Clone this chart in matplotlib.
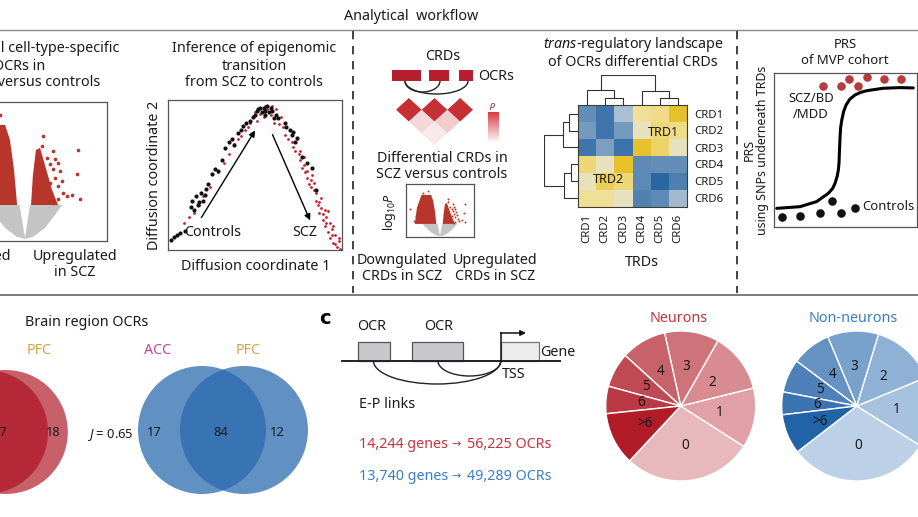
import numpy as np
import matplotlib
matplotlib.use('Agg')
import matplotlib.pyplot as plt
from matplotlib.patches import Arc, Rectangle, Circle, Polygon
from matplotlib.colors import LinearSegmentedColormap
from matplotlib.cm import ScalarMappable

plt.rcParams['font.family'] = ['Noto Sans', 'DejaVu Sans']
plt.rcParams['mathtext.fontset'] = 'custom'
plt.rcParams['mathtext.rm'] = 'Noto Sans'
plt.rcParams['mathtext.it'] = 'Noto Sans:italic'

# ---------------- data ----------------
# volcano (logFC, -log10 P)
up_x = [0.67, 0.61, 1.04, 1.95, 0.82, 1.10, 1.22, 0.92, 1.04, 1.28, 1.89, 1.10,
        1.34, 0.92, 1.22, 1.53, 1.71, 2.01, 1.40, 1.22, 1.04, 0.85]
up_y = [7.58, 6.85, 6.49, 6.55, 6.00, 5.92, 5.63, 5.52, 5.16, 5.04, 4.79, 4.55,
        4.32, 4.15, 3.96, 3.24, 3.29, 3.00, 3.47, 3.00, 2.76, 3.24]
dn_x = [-0.92, -0.79, -0.85, -0.77, -0.85, -0.70, -0.82, -0.92, -0.77, -1.10,
        -1.30, -1.60, -1.20, -1.90, -1.45, -2.10, -1.70, -1.05, -2.40, -1.35]
dn_y = [9.06, 8.10, 7.63, 7.14, 6.67, 6.31, 5.70, 4.99, 4.51, 7.90,
        6.20, 5.40, 4.80, 4.20, 3.60, 3.10, 2.90, 3.30, 5.60, 8.70]
up_dense_x = [0.22, 0.29, 0.40, 0.55, 0.73, 0.99, 1.21]
up_dense_y = [2.59, 4.75, 6.55, 6.70, 5.47, 3.67, 2.59]
dn_dense_x = [-0.29, -0.40, -0.55, -0.73, -1.47, -1.83, -2.00]
dn_dense_y = [2.59, 5.10, 7.27, 8.35, 8.35, 5.80, 2.59]
ns_x = [0, 0.18, 1.36, 1.10, 0.73, 0.29, 0, -0.29, -0.73, -1.10, -1.40, -0.20]
ns_y = [0.22, 2.59, 2.59, 1.87, 0.94, 0.29, 0.15, 0.29, 0.94, 1.87, 2.59, 2.59]

# diffusion map
dc1_ctrl = [0.02, 0.035, 0.05, 0.07, 0.13, 0.14, 0.16, 0.17, 0.19, 0.20, 0.22, 0.25, 0.27,
            0.29, 0.33, 0.35, 0.37, 0.38, 0.43, 0.45, 0.47, 0.50, 0.51, 0.53, 0.54, 0.56,
            0.57, 0.58, 0.61, 0.62, 0.67, 0.68, 0.70, 0.72, 0.74, 0.77, 0.83, 0.85,
            0.49, 0.52, 0.55, 0.555, 0.59, 0.60, 0.63, 0.10, 0.15, 0.18, 0.21, 0.23,
            0.31, 0.40, 0.42, 0.71, 0.73, 0.80]
dc2_ctrl = [0.07, 0.085, 0.10, 0.115, 0.29, 0.33, 0.36, 0.30, 0.38, 0.33, 0.41, 0.51, 0.54,
            0.53, 0.68, 0.72, 0.74, 0.70, 0.83, 0.85, 0.86, 0.90, 0.93, 0.95, 0.92, 0.93,
            0.96, 0.92, 0.88, 0.90, 0.85, 0.82, 0.80, 0.79, 0.75, 0.62, 0.55, 0.40,
            0.89, 0.94, 0.95, 0.90, 0.95, 0.93, 0.88, 0.13, 0.27, 0.32, 0.37, 0.44,
            0.60, 0.78, 0.80, 0.77, 0.72, 0.58]
dc1_scz = [0.09, 0.12, 0.15, 0.18, 0.24, 0.29, 0.35, 0.40, 0.44, 0.47, 0.51, 0.55, 0.57,
           0.59, 0.61, 0.64, 0.67, 0.69, 0.71, 0.73, 0.75, 0.76, 0.77, 0.79, 0.80, 0.81,
           0.82, 0.84, 0.85, 0.86, 0.87, 0.88, 0.89, 0.90, 0.91, 0.92, 0.93, 0.94, 0.95,
           0.96, 0.97, 0.88, 0.83, 0.78, 0.74, 0.70, 0.99, 0.98, 0.93, 0.90,
           0.50, 0.53, 0.56, 0.60, 0.62, 0.65, 0.66, 0.72, 0.76, 0.78, 0.80, 0.82,
           0.84, 0.85, 0.87, 0.89, 0.91, 0.92, 0.94, 0.95, 0.96, 0.98, 0.20, 0.32,
           0.38, 0.42, 0.46]
dc2_scz = [0.18, 0.22, 0.25, 0.30, 0.42, 0.52, 0.64, 0.74, 0.80, 0.85, 0.86, 0.89, 0.94,
           0.90, 0.85, 0.84, 0.77, 0.74, 0.72, 0.66, 0.64, 0.60, 0.55, 0.52, 0.48, 0.44,
           0.47, 0.40, 0.33, 0.30, 0.25, 0.28, 0.20, 0.16, 0.22, 0.12, 0.08, 0.14, 0.05,
           0.10, 0.02, 0.35, 0.50, 0.62, 0.74, 0.80, 0.01, 0.06, 0.18, 0.27,
           0.92, 0.91, 0.96, 0.96, 0.94, 0.89, 0.82, 0.69, 0.66, 0.57, 0.53, 0.42,
           0.45, 0.38, 0.32, 0.24, 0.18, 0.26, 0.10, 0.16, 0.04, 0.08, 0.36, 0.58,
           0.71, 0.76, 0.82]

# CRD correlation (schematic triangle)
crd_rho = [[1.0, 0.45, 0.25], [0.45, 1.0, 0.52], [0.25, 0.52, 1.0]]

# trans-regulatory heatmap
crd_names = ['CRD1', 'CRD2', 'CRD3', 'CRD4', 'CRD5', 'CRD6']
trd_corr = [[-0.55, -0.80, -0.20, 0.55, 0.60, 0.90],
            [-0.45, -0.80, -0.45, 0.30, 0.65, 0.60],
            [-0.80, -0.42, -0.82, 0.90, 0.70, 0.30],
            [0.65, 0.30, 0.90, -0.60, -0.55, -0.55],
            [0.30, 0.75, 0.65, -0.60, -0.95, -0.70],
            [0.55, 0.55, 0.28, -0.68, -0.60, -0.25]]
# links: left leaf pos, right leaf pos, left child h, right child h, merge h
col_links = [[1.5, 2.5, 0, 0, 0.23], [0.5, 2.0, 0, 0.23, 0.50],
             [4.5, 5.5, 0, 0, 0.23], [3.5, 5.0, 0, 0.23, 0.47],
             [1.25, 4.25, 0.50, 0.47, 1.0]]
row_links = [[0.5, 1.5, 0, 0, 0.25], [1.0, 2.5, 0.25, 0, 0.45],
             [3.5, 4.5, 0, 0, 0.20], [4.0, 5.5, 0.20, 0, 0.40],
             [1.75, 4.75, 0.45, 0.40, 1.0]]

# PRS schematic
prs_curve_x = [0.019, 0.182, 0.298, 0.380, 0.410, 0.427, 0.442, 0.450, 0.455, 0.457, 0.460,
               0.462, 0.466, 0.474, 0.487, 0.504, 0.530, 0.566, 0.605, 0.648, 0.764, 0.881, 0.974]
prs_curve_y = [0.121, 0.132, 0.165, 0.219, 0.250, 0.284, 0.330, 0.370, 0.420, 0.479, 0.540,
               0.587, 0.645, 0.695, 0.750, 0.792, 0.830, 0.857, 0.874, 0.885, 0.901, 0.905, 0.903]
prs_case_x = [0.345, 0.466, 0.527, 0.585, 0.652, 0.769, 0.886]
prs_case_y = [0.918, 0.918, 0.959, 0.918, 0.972, 0.959, 0.959]
prs_ctrl_x = [0.054, 0.182, 0.322, 0.403, 0.466, 0.566]
prs_ctrl_y = [0.067, 0.071, 0.093, 0.169, 0.089, 0.125]

# Venn counts
red_venn_counts = ['87', '18']
blue_venn_counts = ['17', '84', '12']

# E-P links per OCR
link_bins = ['0', '1', '2', '3', '4', '5', '6', '>6']
neuron_share = [27.9, 12.9, 12.9, 11.7, 9.8, 7.5, 5.9, 11.4]
nonneuron_share = [30.7, 15.1, 14.1, 11.0, 8.5, 7.2, 4.9, 8.6]
neuron_colors = ['#e8b9bc', '#e0a0a5', '#d88b90', '#ce737a', '#c8626a', '#c04a54', '#b93a44', '#b11c28']
nonneuron_colors = ['#bcd1e7', '#a6c2df', '#8fb1d5', '#78a1cc', '#6592c3', '#4e81b9', '#3b73b0', '#2163a7']

# ---------------- figure ----------------
W, H = 918, 517
fig = plt.figure(figsize=(W / 100, H / 100), dpi=100)
FS = 10.3
TXT = '#1a1a1a'


def add_box(x0, y0, x1, y1):
    return fig.add_axes([x0 / W, 1 - y1 / H, (x1 - x0) / W, (y1 - y0) / H])


def frame(ax):
    ax.set_xticks([])
    ax.set_yticks([])
    for s in ax.spines.values():
        s.set_color('#555555')
        s.set_linewidth(0.9)


def volcano(ax, ps):
    ax.fill(ns_x, ns_y, color='#c4c4c4', lw=0)
    ax.fill(up_dense_x, up_dense_y, color='#b8352b', lw=0)
    ax.fill(dn_dense_x, dn_dense_y, color='#b8352b', lw=0)
    ax.scatter(up_x, up_y, s=ps, color='#b8352b', lw=0)
    ax.scatter(dn_x, dn_y, s=ps, color='#b8352b', lw=0)
    frame(ax)


# volcano, cell-type OCRs (cropped on the left)
ax = add_box(-57, 102, 107, 241)
volcano(ax, 7)
ax.set_xlim(-3, 3)
ax.set_ylim(0, 10)

# diffusion map
ax = add_box(168, 100, 342, 250)
ax.scatter(dc1_scz, dc2_scz, s=4, color='#c8202a', lw=0)
ax.scatter(dc1_ctrl, dc2_ctrl, s=9, color='#111111', lw=0)
ax.annotate('', xy=(0.509, 0.813), xytext=(0.183, 0.2),
            arrowprops=dict(arrowstyle='-|>', lw=1, color='k', mutation_scale=9))
ax.annotate('', xy=(0.823, 0.18), xytext=(0.594, 0.787),
            arrowprops=dict(arrowstyle='-|>', lw=1, color='k', mutation_scale=9))
ax.set_xlim(0, 1)
ax.set_ylim(0, 1)
frame(ax)

# CRD correlation triangle
rho_cmap = LinearSegmentedColormap.from_list('rho', ['#ffffff', '#f3d4d4', '#c62f33'])
ax = add_box(396, 98, 473, 145)
for i in range(3):
    for j in range(i, 3):
        cx = (i + j) / 2 + 0.5
        cy = -(j - i) * 0.5
        ax.add_patch(Polygon([(cx - 0.5, cy), (cx, cy + 0.5), (cx + 0.5, cy), (cx, cy - 0.5)],
                             closed=True, color=rho_cmap(crd_rho[i][j]), lw=0))
ax.set_xlim(0, 3)
ax.set_ylim(-1.5, 0.5)
ax.axis('off')

cax = add_box(488, 112, 499, 143)
cb = fig.colorbar(ScalarMappable(cmap=LinearSegmentedColormap.from_list('r2', ['#ffffff', '#d83a40'])),
                  cax=cax)
cb.set_ticks([])
cb.outline.set_visible(False)

# small volcano
ax = add_box(406, 184, 474, 237)
volcano(ax, 2)
ax.set_xlim(-2.7, 2.7)
ax.set_ylim(0, 10.5)

# heatmap
trd_cmap = LinearSegmentedColormap.from_list(
    'trd', ['#2262a0', '#6b93bb', '#d6dde2', '#f2e4a6', '#e3b90f'])
ax = add_box(578, 105, 687, 207)
ax.pcolormesh(np.array(trd_corr), cmap=trd_cmap, vmin=-1, vmax=1)
ax.set_xlim(0, 6)
ax.set_ylim(6, 0)
ax.set_xticks(np.arange(6) + 0.5)
ax.set_xticklabels(crd_names, rotation=90, fontsize=8.2, color=TXT)
ax.set_yticks(np.arange(6) + 0.5)
ax.set_yticklabels(crd_names, fontsize=8.2, color=TXT)
ax.yaxis.tick_right()
ax.tick_params(length=0, pad=5)
for s in ax.spines.values():
    s.set_color('#3d3d30')
    s.set_linewidth(0.8)
ax.text(4.68, 1.6, 'TRD1', fontsize=9, ha='center', va='center', color=TXT)
ax.text(1.65, 4.4, 'TRD2', fontsize=9, ha='center', va='center', color=TXT)

# dendrograms
ax = add_box(578, 75, 687, 105)
for xl, xr, hl, hr, h in col_links:
    ax.plot([xl, xl, xr, xr], [hl, h, h, hr], color='#333333', lw=0.8)
ax.set_xlim(0, 6)
ax.set_ylim(0, 1.0)
ax.axis('off')

ax = add_box(544, 105, 578, 207)
for yl, yr, hl, hr, h in row_links:
    ax.plot([hl, h, h, hr], [yl, yl, yr, yr], color='#333333', lw=0.8)
ax.set_xlim(1.0, 0)
ax.set_ylim(6, 0)
ax.axis('off')

# PRS
ax = add_box(774, 73, 917, 227)
ax.plot(prs_curve_x, prs_curve_y, color='k', lw=2.2, solid_capstyle='round')
ax.scatter(prs_case_x, prs_case_y, s=38, color='#b83c3c', lw=0)
ax.scatter(prs_ctrl_x, prs_ctrl_y, s=38, color='#111111', lw=0)
ax.set_xlim(0, 1)
ax.set_ylim(0, 1)
frame(ax)

# Venn diagrams
ax = add_box(-84, 362, 76, 502)
ax.add_patch(Circle((0, 0), 1, color='#b52838', alpha=0.97, lw=0))
ax.add_patch(Circle((0.32, 0), 1, color='#b52838', alpha=0.74, lw=0))
ax.set_xlim(-70 / 62, 90 / 62)
ax.set_ylim(-70 / 62, 70 / 62)
ax.axis('off')

ax = add_box(132, 360, 314, 500)
ax.add_patch(Circle((0, 0), 1, color='#2a6baf', alpha=0.74, lw=0))
ax.add_patch(Circle((0.656, 0), 1, color='#2a6baf', alpha=0.74, lw=0))
ax.set_xlim(-70 / 64, 112 / 64)
ax.set_ylim(-70 / 64, 70 / 64)
ax.axis('off')

# pies
for cx, share, cols in [(680.7, neuron_share, neuron_colors),
                        (856.7, nonneuron_share, nonneuron_colors)]:
    ax = add_box(cx - 75, 331, cx + 75, 481)
    start = 227 if share is neuron_share else 217.7
    wedges, texts = ax.pie(share, labels=link_bins, colors=cols, startangle=start,
                           counterclock=True, labeldistance=0.53,
                           wedgeprops=dict(edgecolor='white', linewidth=1))
    for t in texts:
        t.set_ha('center')
        t.set_va('center')
        t.set_fontsize(9.8)
        t.set_color(TXT)
    ax.set_xlim(-1, 1)
    ax.set_ylim(-1, 1)

# ---------------- overlay: lines, schematics, text ----------------
ov = fig.add_axes([0, 0, 1, 1])
ov.set_xlim(0, W)
ov.set_ylim(H, 0)
ov.axis('off')
ov.patch.set_alpha(0)


def T(x, y, s, **kw):
    kw.setdefault('fontsize', FS)
    kw.setdefault('ha', 'center')
    kw.setdefault('va', 'center')
    kw.setdefault('color', TXT)
    ov.text(x, y, s, **kw)


ov.plot([0, W], [30, 30], color='#8a8a8a', lw=1)
ov.plot([0, W], [294.5, 294.5], color='#7a7a7a', lw=1.4)
for xv in [353, 737]:
    ov.plot([xv, xv], [31, 293], color='#222222', lw=1.2, ls=(0, (5, 4)))

T(411.5, 16, 'Analytical  workflow')

# panel 1 text
T(119, 48, 'Differential cell-type-specific', ha='right')
T(45, 66, 'OCRs in', ha='right')
T(100, 83, 'SCZ versus controls', ha='right')
T(11, 256, 'Downregulated', ha='right')
T(75, 256, 'Upregulated')
T(75, 273, 'in SCZ')

# panel 2 text
T(254, 48, 'Inference of epigenomic')
T(254, 66, 'transition')
T(254, 83, 'from SCZ to controls')
T(155, 175, 'Diffusion coordinate 2', rotation=90)
T(256, 266, 'Diffusion coordinate 1')
T(184, 232, 'Controls', ha='left')
T(292, 232, 'SCZ', ha='left')

# panel 3 schematic
T(443, 57, 'CRDs')
for x0, x1 in [(392, 421), (429, 449), (459, 473)]:
    ov.add_patch(Rectangle((x0, 70), x1 - x0, 11, color='#b51f2e', lw=0))
T(478, 76, 'OCRs', ha='left')
ov.add_patch(Arc((422.5, 81), 35, 22, theta1=0, theta2=180, color='#222222', lw=1))
ov.add_patch(Arc((436.5, 81), 63, 26, theta1=0, theta2=180, color='#222222', lw=1))
T(493, 106, r'$\rho$', fontsize=7, color='#8b2a2a')
T(442, 159, 'Differential CRDs in')
T(442, 174, 'SCZ versus controls')
T(390, 212, r'log$_{10}$$\it{P}$', rotation=90, fontsize=9)
T(402, 260, 'Downgulated')
T(402, 277, 'CRDs in SCZ')
T(495, 260, 'Upregulated')
T(495, 277, 'CRDs in SCZ')

# panel 4 text
T(633, 44, r'$\it{trans}$-regulatory landscape')
T(633, 62, 'of OCRs differential CRDs')
T(642, 262, 'TRDs')

# panel 5 text
T(845, 45, 'PRS', fontsize=9.4)
T(845, 60, 'of MVP cohort', fontsize=9.4)
T(756, 150, 'PRS\nusing SNPs underneath TRDs', rotation=90, fontsize=8.9,
  linespacing=1.0, multialignment='center')
T(811, 99, 'SCZ/BD', fontsize=9.4)
T(811, 115, '/MDD', fontsize=9.4)
T(862, 207, 'Controls', ha='left', fontsize=9.4)

# bottom left: brain region Venns
T(25, 323, 'Brain region OCRs', ha='left')
T(39, 350, 'PFC', color='#d4a548')
T(0, 432, red_venn_counts[0], fontsize=9.3)
T(53, 432, red_venn_counts[1], fontsize=9.3)
T(110, 435, r'$\it{J}$ = 0.65', fontsize=9.3)
T(158, 350, 'ACC', color='#c0469a')
T(248, 350, 'PFC', color='#d4a548')
for xt, s in zip([154, 221, 277], blue_venn_counts):
    T(xt, 433, s, fontsize=9.3)

# panel c
T(325, 318, 'c', fontsize=14, fontweight='bold', family='DejaVu Sans', color='black')
ov.plot([342, 560], [361, 361], color='#222222', lw=1.4)
for x0, x1 in [(358, 390), (412, 463)]:
    ov.add_patch(Rectangle((x0, 342), x1 - x0, 19, facecolor='#c8c8cc', edgecolor='#555555', lw=0.9))
ov.add_patch(Rectangle((501, 342), 38, 19, facecolor='#ececec', edgecolor='#777777', lw=0.9))
T(372, 327, 'OCR')
T(439, 327, 'OCR')
ov.add_patch(Arc((437, 361), 127, 46, theta1=0, theta2=180, color='#222222', lw=1))
ov.add_patch(Arc((469.5, 361), 63, 30, theta1=0, theta2=180, color='#222222', lw=1))
ov.plot([501, 501], [361, 333], color='#111111', lw=1.1)
ov.annotate('', xy=(526, 333), xytext=(500.5, 333),
            arrowprops=dict(arrowstyle='-|>', lw=1.1, color='#111111', mutation_scale=8,
                            shrinkA=0, shrinkB=0))
T(540, 352, 'Gene', ha='left')
T(514, 375, 'TSS')
T(359, 405, 'E-P links', ha='left')
for yy, genes, ocrs, col in [(444, '14,244 genes', '56,225 OCRs', '#c8323c'),
                             (476, '13,740 genes', '49,289 OCRs', '#3a7fc4')]:
    T(359, yy, genes, ha='left', color=col)
    T(456, yy + 0.5, '\u2192', fontsize=8, family='DejaVu Sans', color=col)
    T(467, yy, ocrs, ha='left', color=col)
T(679, 319, 'Neurons', color='#c8323c')
T(853, 319, 'Non-neurons', color='#3a7fc4')

fig.savefig('out.png', dpi=100)
